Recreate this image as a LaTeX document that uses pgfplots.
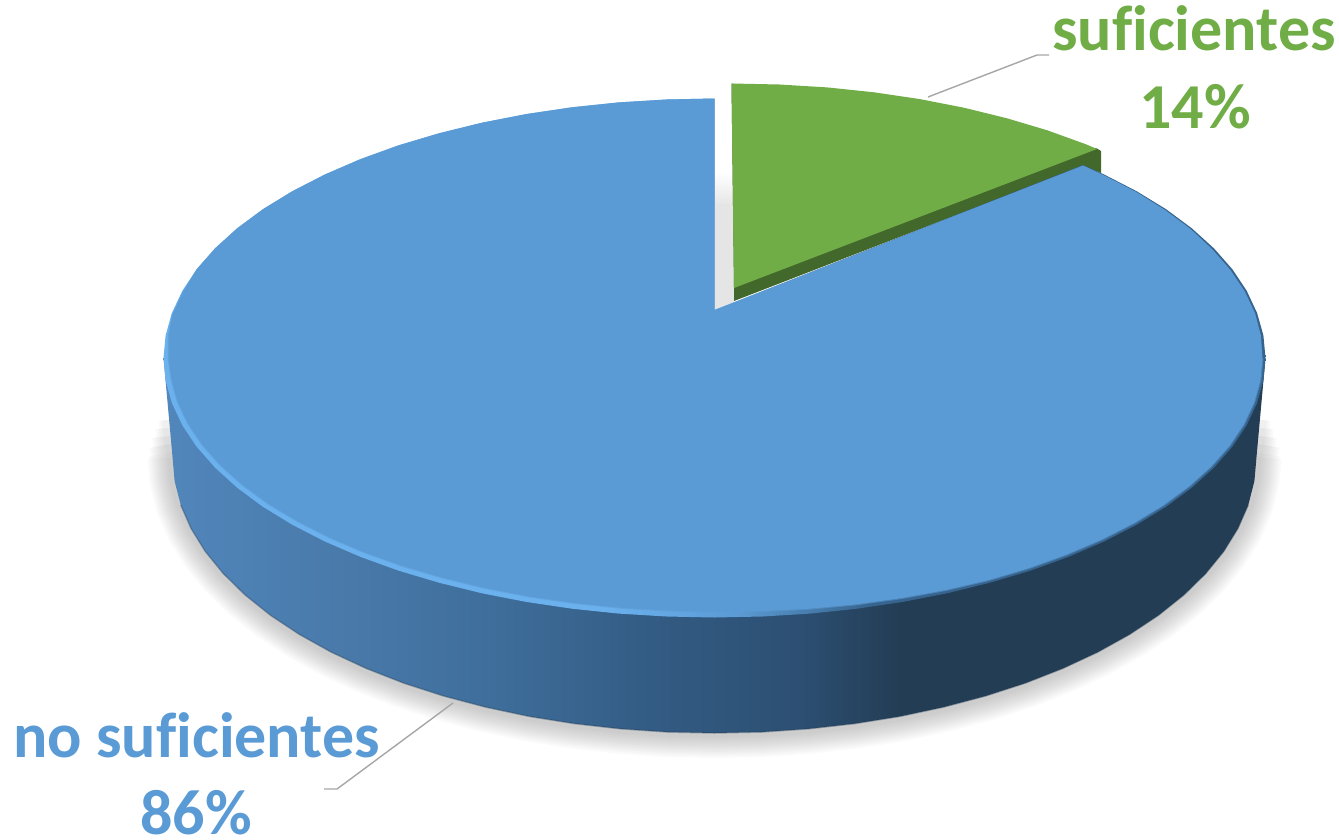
\documentclass[border=0pt]{standalone}
\usepackage{pgfplots}
\usepackage{pgfplotstable}
\usepackage{fontspec}
\setmainfont[Ligatures=CommonOff]{Carlito}
\pgfplotsset{compat=1.18}
\definecolor{face}{HTML}{5B9BD5}
\definecolor{grn}{HTML}{70AD47}
\definecolor{grndark}{HTML}{43682B}
\definecolor{lead}{HTML}{A6A6A6}
\definecolor{s1}{HTML}{5287BC}
\definecolor{s2}{HTML}{4D80B3}
\definecolor{s3}{HTML}{4879A9}
\definecolor{s4}{HTML}{3E6D9A}
\definecolor{s5}{HTML}{335C84}
\definecolor{s6}{HTML}{2C4F72}
\definecolor{s7}{HTML}{233D55}
\definecolor{r1}{HTML}{6BB1EE}
\definecolor{r2}{HTML}{37648E}
\pgfdeclarehorizontalshading{sideshade}{100bp}{color(0bp)=(s1); color(25bp)=(s1); color(28.9bp)=(s2); color(33.5bp)=(s3); color(40.3bp)=(s4); color(47bp)=(s5); color(53.9bp)=(s6); color(58.4bp)=(s7); color(100bp)=(s7)}
\pgfdeclarehorizontalshading{rimshade}{100bp}{color(0bp)=(r1); color(45bp)=(r1); color(51bp)=(face); color(57bp)=(r2); color(100bp)=(r2)}
\pgfdeclareverticalshading{gapshade}{100bp}{color(0bp)=(black!10); color(25bp)=(black!10); color(75bp)=(white); color(100bp)=(white)}
% outline of the underside of the disc
\pgfplotstableread{
x y
167.5 420
168.2 428
169 436
170 444
171.5 452
172.5 457
174.6 481.1
180.7 504.9
191 528.4
205.2 551.4
223.3 573.6
245.1 595
270.5 615.3
299.3 634.4
331.3 652.2
366.1 668.4
403.6 683.1
443.5 696
485.5 707.1
529.1 716.4
574.2 723.6
620.4 728.8
667.2 732
714.5 733
761.8 732
808.6 728.8
854.8 723.6
899.9 716.4
943.5 707.1
985.5 696
1025.4 683.1
1062.9 668.4
1097.7 652.2
1129.7 634.4
1158.5 615.3
1183.9 595
1205.7 573.6
1223.8 551.4
1238 528.4
1248.3 504.9
1254.4 481.1
1256.5 457
1257.5 452
1259 444
1260 436
1260.8 428
1261.5 420
}\bottomarc
% side wall
\pgfplotstableread{
x y
163.5 358
172.5 457
174.6 481.1
180.7 504.9
191 528.4
205.2 551.4
223.3 573.6
245.1 595
270.5 615.3
299.3 634.4
331.3 652.2
366.1 668.4
403.6 683.1
443.5 696
485.5 707.1
529.1 716.4
574.2 723.6
620.4 728.8
667.2 732
714.5 733
761.8 732
808.6 728.8
854.8 723.6
899.9 716.4
943.5 707.1
985.5 696
1025.4 683.1
1062.9 668.4
1097.7 652.2
1129.7 634.4
1158.5 615.3
1183.9 595
1205.7 573.6
1223.8 551.4
1238 528.4
1248.3 504.9
1254.4 481.1
1256.5 457
1265.5 358
}\sidewall
% blue slice, outer outline
\pgfplotstableread{
x y
714.5 310
714.5 98.5
666.5 99.5
618.8 102.4
571.9 107.3
526.1 114.1
481.6 122.8
439 133.3
398.4 145.4
360.3 159.2
324.9 174.5
292.4 191.2
263.1 209.1
237.3 228.2
215.1 248.3
196.7 269.2
182.3 290.8
171.9 313
165.6 335.4
163.5 358
165.6 380.6
171.9 403
182.3 425.2
196.7 446.8
215.1 467.7
237.3 487.8
263.1 506.9
292.4 524.8
324.9 541.5
360.3 556.8
398.4 570.6
439 582.7
481.6 593.2
526.1 601.9
571.9 608.7
618.8 613.6
666.5 616.5
714.5 617.5
762.5 616.5
810.2 613.6
857.1 608.7
902.9 601.9
947.4 593.2
990 582.7
1030.6 570.6
1068.7 556.8
1104.1 541.5
1136.6 524.8
1165.9 506.9
1191.7 487.8
1213.9 467.7
1232.3 446.8
1246.7 425.2
1257.1 403
1263.4 380.6
1265.5 358
1263.4 335.4
1257.1 313
1246.7 290.8
1232.3 269.2
1213.9 248.3
1191.7 228.2
1165.9 209.1
1136.6 191.2
1104.1 174.5
1083 165
}\outerface
% blue slice, inner flat surface
\pgfplotstableread{
x y
714.5 310
714.5 98.5
666.5 99.5
618.8 102.4
571.9 107.3
526.1 114.1
481.6 122.8
439 133.3
398.4 145.4
360.3 159.2
324.9 174.5
292.4 191.2
263.1 209.1
237.3 228.2
215.1 248.3
196.7 269.2
183.3 291
172.9 313.2
168.6 335.6
168.5 358
171.6 380.1
177.8 402
188.1 423.6
202.3 444.7
220.5 465.2
242.5 484.8
268 503.5
297 520.9
329.1 537.3
364.2 552.2
401.8 565.7
442 577.5
484.1 587.8
528.2 596.3
573.5 602.9
619.8 607.7
667 610.5
714.5 611.5
762 611
809.3 608.7
855.9 604.4
901.5 598.1
945.9 590
988.5 580.1
1028.9 568.1
1066.8 554.5
1102 539.4
1134.3 522.9
1163.4 505.2
1189.1 486.3
1211.2 466.4
1229.5 445.8
1243.8 424.4
1254.1 402.5
1260.4 380.3
1262.5 358
1260.9 335.6
1255.1 313.3
1244.7 291.3
1230.4 269.9
1212.1 249.1
1190.4 228.8
1164.7 209.7
1135.8 191.7
1103.4 175
1083 165.5
}\innerface
% soft edge of the flat surface
\pgfplotstableread{
x y
172.9 313.2
168.6 335.6
168.5 358
171.6 380.1
177.8 402
188.1 423.6
202.3 444.7
220.5 465.2
242.5 484.8
268 503.5
297 520.9
329.1 537.3
364.2 552.2
401.8 565.7
442 577.5
484.1 587.8
528.2 596.3
573.5 602.9
619.8 607.7
667 610.5
714.5 611.5
762 611
809.3 608.7
855.9 604.4
901.5 598.1
945.9 590
988.5 580.1
1028.9 568.1
1066.8 554.5
1102 539.4
1134.3 522.9
1163.4 505.2
1189.1 486.3
1211.2 466.4
1229.5 445.8
1243.8 424.4
1254.1 402.5
1260.4 380.3
1262.5 358
}\softedge
\pgfplotsset{
  sh/.style={draw=black,line join=round,draw opacity=0.018,fill=none},
  csel/.style 2 args={x filter/.code={\ifnum\coordindex<#1 \def\pgfmathresult{}\else\ifnum\coordindex>#2 \def\pgfmathresult{}\fi\fi}}
}
\tikzset{lab/.style={anchor=base,inner sep=0pt,font=\fontsize{64}{66}\selectfont\bfseries}}
\begin{document}
\begin{tikzpicture}
\begin{axis}[
  scale only axis, width=1339pt, height=839pt,
  xmin=0, xmax=1339, ymin=0, ymax=839, y dir=reverse,
  hide axis, clip=false]
\path (axis cs:0,0) rectangle (axis cs:1339,839);
% shadow
\addplot[sh,line width=50pt,csel={5}{41}] table {\bottomarc};
\addplot[sh,line width=46pt,csel={4}{42}] table {\bottomarc};
\addplot[sh,line width=42pt,csel={3}{43}] table {\bottomarc};
\addplot[sh,line width=38pt,csel={3}{43}] table {\bottomarc};
\addplot[sh,line width=34pt,csel={2}{44}] table {\bottomarc};
\addplot[sh,line width=30pt,csel={2}{44}] table {\bottomarc};
\addplot[sh,line width=26pt,csel={1}{45}] table {\bottomarc};
\addplot[sh,line width=22pt,csel={1}{45}] table {\bottomarc};
\addplot[sh,line width=18pt] table {\bottomarc};
\addplot[sh,line width=14pt] table {\bottomarc};
\addplot[sh,line width=10pt] table {\bottomarc};
% gap shadow
\addplot[draw=none,shading=gapshade] coordinates {(714.5,172)(733,172)(733,205)(714.5,205)} -- cycle;
\addplot[draw=none,fill=black!10] coordinates {(714.5,204)(734,204)(734,302)(714.5,310)} -- cycle;
% green slice
\addplot[draw=none,fill=grndark] coordinates {(731.5,83.5)(734,288)(734,301)(1083,166)(1101,173)(1101,151)(1097,148.5)} -- cycle;
\addplot[draw=none,fill=grn] coordinates {(731.5,83.5)(779.5,84.5)(827.2,87.4)(874.1,92.3)(919.9,99.1)(964.4,107.8)(1007,118.3)(1047.6,130.4)(1085.7,144.2)(1097,149)(734,288)} -- cycle;
% side wall
\addplot[draw=none,shading=sideshade] table {\sidewall} -- cycle;
\addplot[draw=s7,draw opacity=.35,line width=1.5pt,csel={3}{35}] table {\sidewall};
% top surface
\addplot[draw=none,shading=rimshade] table {\outerface} -- cycle;
\addplot[draw=face,draw opacity=.5,line width=2pt,line join=round] table {\softedge};
\addplot[draw=none,fill=face] table {\innerface} -- cycle;
% leader lines
\addplot[draw=lead,line width=1.4pt] coordinates {(928,97)(1037,55)(1049,55)};
\addplot[draw=lead,line width=1.4pt] coordinates {(453,703)(337,789)(324,789)};
% labels
\node[lab,text=grn] at (axis cs:1194,50) {suficientes};
\node[lab,text=grn] at (axis cs:1195,128) {14\%};
\node[lab,text=face] at (axis cs:196.5,757) {no suficientes};
\node[lab,text=face] at (axis cs:196,834) {86\%};
\end{axis}
\end{tikzpicture}
\end{document}
